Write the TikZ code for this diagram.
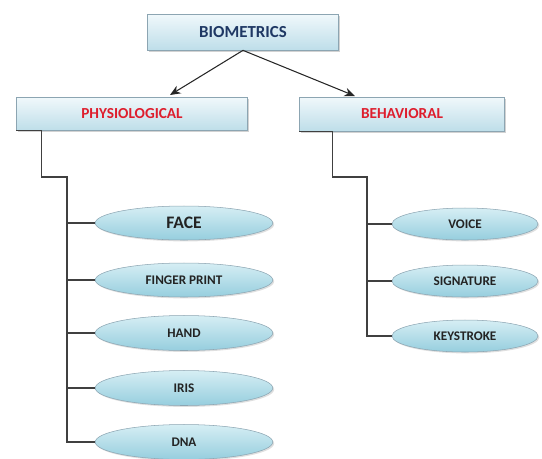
\documentclass[tikz,border=0pt]{standalone}
\usepackage{fontspec}
\setmainfont{Carlito}
\usetikzlibrary{shapes.geometric,shadows,arrows.meta,calc}

\definecolor{headblue}{RGB}{31,56,100}
\definecolor{headred}{RGB}{222,30,45}
\definecolor{boxtop}{RGB}{240,248,251}
\definecolor{boxbot}{RGB}{190,222,233}
\definecolor{ovaltop}{RGB}{214,238,244}
\definecolor{ovalbot}{RGB}{150,206,222}
\definecolor{edgegray}{RGB}{140,165,178}
\definecolor{txtgray}{RGB}{35,35,35}

\tikzset{
  catbox/.style={rectangle, draw=edgegray, line width=0.4pt,
    top color=boxtop, bottom color=boxbot,
    drop shadow={shadow xshift=1pt, shadow yshift=-1pt, fill=black!35},
    font=\bfseries\fontsize{8.7}{10}\selectfont, inner sep=0pt},
  leaf/.style={ellipse, draw=edgegray, line width=0.3pt,
    top color=ovaltop, bottom color=ovalbot,
    drop shadow={shadow xshift=0.8pt, shadow yshift=-0.8pt, fill=black!25},
    text=txtgray, font=\bfseries\fontsize{7.5}{9}\selectfont, inner sep=0pt},
  branch/.style={draw=black!75, line width=0.6pt}
}

\begin{document}
\begin{tikzpicture}[x=0.02cm, y=-0.02cm]
\useasboundingbox (0,0) rectangle (542,458);

% top level
\node[catbox, text=headblue, minimum width=3.82cm, minimum height=0.72cm, font=\bfseries\fontsize{9.6}{11}\selectfont] (bio) at (243,32) {BIOMETRICS};
\node[catbox, text=headred, minimum width=4.62cm, minimum height=0.66cm] (phys) at (132,114) {PHYSIOLOGICAL};
\node[catbox, text=headred, minimum width=4.1cm, minimum height=0.68cm] (behav) at (402,114) {BEHAVIORAL};

\coordinate (pin1) at (170,95);
\coordinate (pin2) at (355,96);
\draw[-{Stealth[length=6pt,width=5pt]}, black!85, line width=0.6pt] (bio.south) -- (pin1);
\draw[-{Stealth[length=6pt,width=5pt]}, black!85, line width=0.6pt] (bio.south) -- (pin2);

% physiological traits
\node[leaf, minimum width=3.55cm, minimum height=0.68cm, font=\bfseries\fontsize{10}{12}\selectfont] (face) at (184,223) {FACE};
\node[leaf, minimum width=3.55cm, minimum height=0.68cm] (finger) at (184,280) {FINGER PRINT};
\node[leaf, minimum width=3.55cm, minimum height=0.70cm] (hand) at (184,333) {HAND};
\node[leaf, minimum width=3.55cm, minimum height=0.70cm] (iris) at (184,388) {IRIS};
\node[leaf, minimum width=3.55cm, minimum height=0.70cm] (dna) at (184,442) {DNA};

% behavioral traits
\node[leaf, minimum width=2.92cm, minimum height=0.64cm] (voice) at (465,224) {VOICE};
\node[leaf, minimum width=2.92cm, minimum height=0.64cm] (sign) at (465,281) {SIGNATURE};
\node[leaf, minimum width=2.92cm, minimum height=0.64cm] (keys) at (465,336) {KEYSTROKE};

% brackets
\coordinate (ltrunk) at (67,177);
\coordinate (rtrunk) at (367,177);
\draw[branch] (phys.south west) -- ++(25,0) |- (ltrunk) -- (ltrunk |- dna.west) -- (dna.west);
\foreach \t in {face,finger,hand,iris}
  \draw[branch] (ltrunk |- \t.west) -- (\t.west);
\draw[branch] (behav.south west) -- ++(33,0) |- (rtrunk) -- (rtrunk |- keys.west) -- (keys.west);
\foreach \t in {voice,sign}
  \draw[branch] (rtrunk |- \t.west) -- (\t.west);
\end{tikzpicture}
\end{document}
